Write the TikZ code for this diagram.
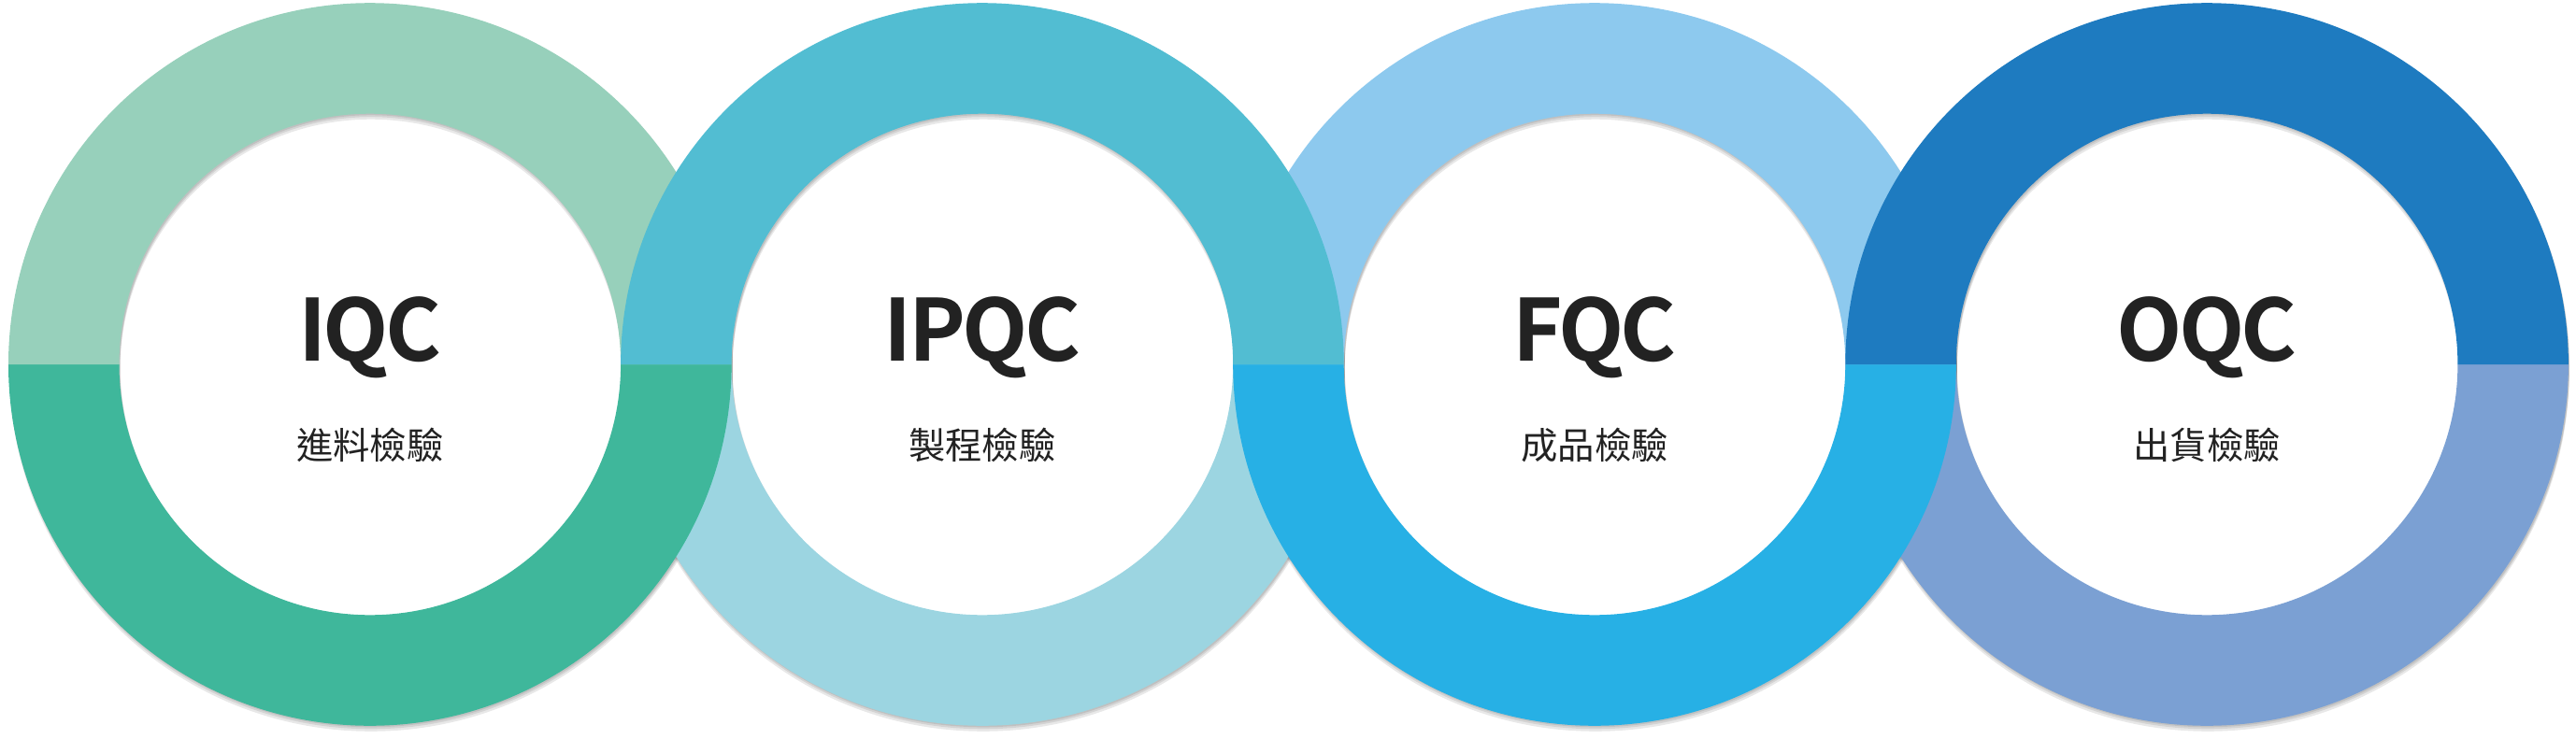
\documentclass[tikz,border=0pt]{standalone}
\usepackage{fontspec}
\newfontfamily\cjk{Noto Sans CJK TC}
\newfontfamily\cjktitle{Noto Sans CJK TC}[UprightFont=* Bold, LetterSpace=-4]
\usetikzlibrary{positioning}

\definecolor{iqctop}{HTML}{97D0BB}
\definecolor{iqcbot}{HTML}{3FB79B}
\definecolor{ipqctop}{HTML}{52BDD2}
\definecolor{ipqcbot}{HTML}{9CD5E1}
\definecolor{fqctop}{HTML}{8DC9EE}
\definecolor{fqcbot}{HTML}{27B0E5}
\definecolor{oqctop}{HTML}{1E7BC0}
\definecolor{oqcbot}{HTML}{7BA0D3}
\definecolor{textdark}{HTML}{222222}

\tikzset{
  title/.style={font=\cjktitle\fontsize{26}{26}\selectfont, text=textdark},
  subtitle/.style={font=\cjk\fontsize{11.2}{11.2}\selectfont, text=textdark},
  ringshadow/.style={fill=black, opacity=0.09, even odd rule},
}

\begin{document}
\begin{tikzpicture}
\useasboundingbox (0,-4.0) rectangle (27.56,3.9);
\def\rout{3.868}
\def\rin{2.683}

% soft shadows under all rings
\foreach \cx in {3.958, 10.509, 17.060, 23.611}
  \foreach \dy in {0.06, 0.035, 0.015}
    \fill[ringshadow, shift={(0.01,-\dy)}] (\cx,0) circle[radius=\rout] (\cx,0) circle[radius=\rin];

% lower halves (rings 1 and 3 lie on top)
\foreach \cx/\col in {10.509/ipqcbot, 23.611/oqcbot, 3.958/iqcbot, 17.060/fqcbot}
  \fill[\col] (\cx+\rout,0) arc[start angle=0, end angle=-180, radius=\rout] -- (\cx-\rin,0) arc[start angle=180, end angle=360, radius=\rin] -- cycle;

% upper halves (rings 2 and 4 lie on top)
\foreach \cx/\col in {3.958/iqctop, 17.060/fqctop, 10.509/ipqctop, 23.611/oqctop}
  \fill[\col] (\cx+\rout,0) arc[start angle=0, end angle=180, radius=\rout] -- (\cx-\rin,0) arc[start angle=180, end angle=0, radius=\rin] -- cycle;

\node[title] (iqc) at (3.958,0.29) {IQC};
\node[title] (ipqc) at (10.509,0.29) {IPQC};
\node[title] (fqc) at (17.060,0.29) {FQC};
\node[title] (oqc) at (23.611,0.29) {OQC};

\node[subtitle] (iqcsub) at (3.958,-0.86) {進料檢驗};
\node[subtitle] (ipqcsub) at (10.509,-0.86) {製程檢驗};
\node[subtitle] (fqcsub) at (17.060,-0.86) {成品檢驗};
\node[subtitle] (oqcsub) at (23.611,-0.86) {出貨檢驗};
\end{tikzpicture}
\end{document}
